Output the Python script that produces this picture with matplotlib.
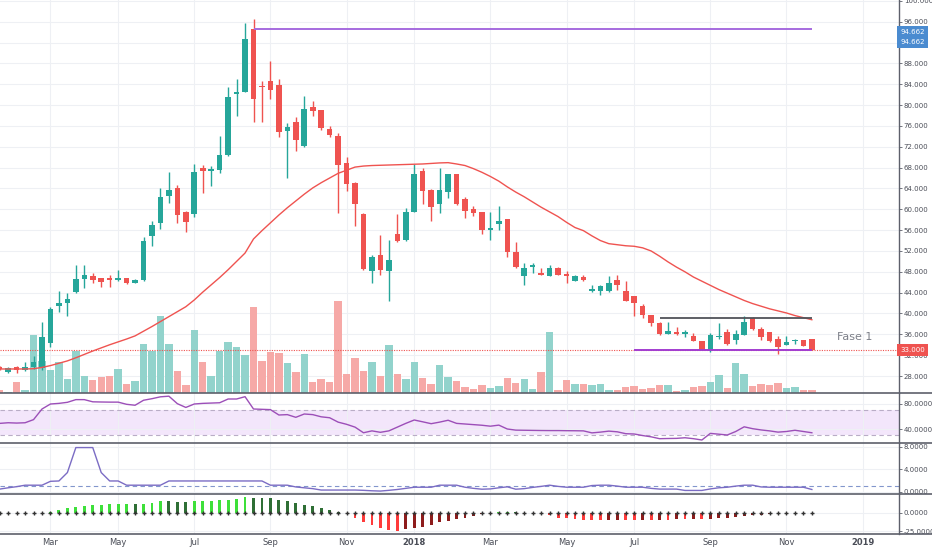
import datetime as dt
import math

import numpy as np
import matplotlib.pyplot as plt
from matplotlib.lines import Line2D

# weekly bars, first bar = Monday 2017-01-23
start = dt.date(2017, 1, 23)

opens = [29.8, 28.8, 29.66, 29.15, 29.66, 29.47, 34.4, 41.44, 41.95, 44.2,
         46.55, 47.26, 46.75, 46.6, 46.4, 46.8, 45.9, 46.5, 54.9, 57.43,
         62.6, 64.0, 59.5, 59.1, 67.9, 67.41, 67.54, 70.4, 82.1, 82.6,
         94.662, 83.7, 84.6, 83.8, 75.0, 76.8, 72.2, 79.57, 79.06, 75.4,
         74.07, 68.95, 65.0, 59.1, 48.22, 51.23, 48.2, 55.2, 54.1, 59.48,
         67.4, 63.7, 60.95, 63.3, 66.77, 62.0, 60.12, 59.4, 56.1, 57.18,
         58.1, 51.8, 47.2, 48.86, 47.84, 47.26, 48.67, 47.58, 46.3, 46.94,
         44.25, 44.31, 44.31, 46.42, 44.31, 43.35, 41.43, 39.7, 38.2, 36.06,
         36.5, 36.06, 35.67, 34.78, 32.8, 35.4, 36.5, 35.0, 35.87, 39.07,
         36.95, 36.38, 35.1, 33.95, 34.65, 34.9, 35.03]
highs = [30.0, 29.7, 30.0, 30.75, 31.8, 38.4, 41.3, 44.3, 43.9, 49.3,
         49.3, 47.8, 46.8, 47.4, 48.4, 46.9, 46.7, 54.6, 57.7, 64.0,
         67.1, 64.7, 59.6, 68.7, 68.5, 68.4, 74.07, 83.4, 85.0, 95.8,
         96.5, 84.6, 88.5, 85.1, 76.6, 77.8, 81.7, 80.7, 79.1, 75.9,
         74.7, 70.0, 65.2, 59.2, 51.23, 55.07, 54.2, 59.1, 60.2, 68.7,
         67.9, 63.8, 67.9, 66.8, 66.8, 62.4, 60.7, 59.5, 59.5, 60.6,
         58.2, 53.8, 49.75, 49.6, 48.7, 49.3, 48.9, 48.2, 47.3, 47.4,
         45.46, 45.4, 47.25, 47.38, 46.2, 43.4, 41.9, 39.8, 38.3, 38.43,
         37.5, 36.9, 36.3, 34.8, 36.2, 38.1, 37.1, 36.8, 39.5, 39.4,
         37.5, 36.4, 35.6, 35.6, 35.2, 35.0, 35.1]
lows = [29.1, 28.6, 28.6, 28.95, 29.4, 29.1, 33.6, 40.35, 39.6, 43.9,
        44.8, 45.8, 45.0, 45.0, 46.2, 45.7, 45.8, 46.2, 53.0, 56.3,
        61.3, 57.3, 55.6, 58.6, 63.1, 64.5, 67.03, 70.2, 77.9, 82.5,
        76.8, 76.8, 81.2, 73.9, 66.1, 71.25, 72.0, 77.9, 75.2, 73.9,
        59.3, 63.6, 56.7, 48.3, 45.9, 47.4, 42.46, 53.8, 54.0, 59.4,
        61.0, 57.8, 59.35, 62.1, 60.8, 58.3, 58.7, 55.2, 54.1, 56.0,
        50.9, 48.7, 45.47, 47.7, 47.4, 47.2, 47.4, 45.9, 46.2, 46.3,
        44.2, 43.48, 44.2, 44.5, 42.4, 39.5, 39.2, 37.6, 35.9, 36.0,
        35.9, 35.5, 34.7, 32.9, 32.7, 35.2, 33.95, 34.1, 35.8, 36.8,
        35.0, 34.6, 32.2, 33.9, 34.1, 33.7, 32.9]
closes = [29.3, 29.6, 29.15, 29.66, 30.75, 35.55, 40.86, 41.95, 42.84, 46.6,
          47.3, 46.43, 45.98, 46.5, 46.8, 45.8, 46.5, 53.9, 57.0, 62.36,
          63.7, 59.0, 57.6, 67.1, 67.3, 67.67, 70.36, 81.6, 82.5, 92.6,
          81.2, 83.5, 82.8, 74.9, 75.86, 73.3, 79.2, 78.93, 75.54, 74.3,
          68.5, 64.92, 60.95, 48.5, 50.78, 48.35, 50.2, 53.9, 59.4, 66.7,
          63.5, 60.5, 63.7, 66.7, 60.95, 59.7, 59.22, 56.0, 56.4, 57.69,
          51.8, 49.0, 48.67, 49.3, 47.45, 48.67, 47.45, 47.2, 47.2, 46.42,
          44.76, 45.34, 45.91, 45.46, 42.46, 42.07, 39.7, 38.2, 36.06, 36.7,
          36.06, 36.5, 34.78, 33.0, 35.87, 35.5, 34.14, 36.0, 38.43, 36.95,
          35.4, 34.78, 33.63, 34.59, 34.75, 33.8, 33.0]
volume = [3, 1.3, 11.7, 3.3, 61.3, 34, 24.7, 33, 15.3, 44.7,
          18.3, 13.7, 17, 18.3, 26, 9.3, 13.3, 52.3, 44.7, 82.3,
          51.7, 23.3, 8.7, 67.3, 33.3, 18.3, 44.7, 54.3, 48.7, 40.3,
          92, 33.7, 43.3, 42.7, 32, 22.3, 41, 11.3, 15, 12,
          98, 20, 37.7, 23.3, 33.3, 17.7, 51.3, 20.3, 15, 33.3,
          16.3, 9.3, 30, 16.7, 12.3, 6, 4.7, 8, 5.7, 7.3,
          16.3, 11, 15, 4.7, 22.3, 65.3, 3.3, 14.3, 9.7, 9.3,
          8.7, 9.3, 2.7, 3.3, 6.7, 7.3, 4.7, 5.7, 8.3, 8.7,
          2.3, 3.3, 6, 7.7, 11.3, 19, 5.7, 32.3, 19.7, 7.3,
          9.3, 8.3, 10.7, 5.7, 6, 2.7, 2.7]
ma = [29.35, 29.35, 29.35, 29.35, 29.4, 29.65, 30.0, 30.45, 30.9, 31.5,
      32.15, 32.8, 33.4, 34.0, 34.55, 35.1, 35.7, 36.6, 37.5, 38.45,
      39.4, 40.35, 41.3, 42.6, 44.1, 45.5, 46.9, 48.4, 50.0, 51.6,
      54.3, 55.9, 57.4, 58.9, 60.3, 61.6, 62.9, 64.1, 65.1, 66.0,
      66.9, 67.5, 68.1, 68.3, 68.4, 68.45, 68.5, 68.55, 68.6, 68.65,
      68.7, 68.8, 68.9, 68.95, 68.7, 68.4, 67.8, 67.1, 66.3, 65.4,
      64.3, 63.3, 62.4, 61.4, 60.4, 59.5, 58.6, 57.5, 56.5, 55.9,
      54.9, 54.0, 53.4, 53.2, 53.0, 52.9, 52.6, 52.0, 51.0, 49.9,
      48.9, 48.0, 47.0, 46.2, 45.4, 44.6, 43.9, 43.2, 42.5, 41.9,
      41.4, 40.9, 40.5, 40.1, 39.6, 39.2, 38.8]
rsi = [49, 50, 49.5, 50, 55, 72, 80, 81, 82.7, 87,
       87, 83.5, 83.2, 83, 83, 79.5, 78, 86, 88.5, 91.5,
       92.5, 80.5, 74.5, 80, 81, 81.5, 82, 88, 88, 91.7,
       72, 71.5, 71, 62.4, 63, 58.7, 64, 63, 59.5, 58,
       51, 47.5, 43, 34, 37, 34.7, 37, 43, 49, 54.4,
       51.5, 48.5, 51, 54, 49, 48, 47, 46, 44.5, 46.2,
       40, 38.2, 38, 37.8, 37.6, 37.5, 37.5, 37.3, 37.2, 37,
       33.8, 35, 36.6, 35.5, 32.5, 32, 29.5, 27.5, 24.5, 24.8,
       25, 26, 24.5, 22.4, 33, 31.7, 30.4, 36, 43.5, 40.5,
       38.5, 37, 35, 36, 38, 36, 34]
osc = [0.47, 0.7, 0.9, 1.16, 1.16, 1.16, 1.85, 1.91, 3.4, 7.83,
       7.83, 7.83, 3.4, 1.91, 1.91, 1.16, 1.16, 1.16, 1.16, 1.16,
       1.91, 1.91, 1.91, 1.91, 1.91, 1.91, 1.91, 1.91, 1.91, 1.91,
       1.91, 1.91, 1.16, 1.16, 1.16, 0.85, 0.7, 0.55, 0.3, 0.3,
       0.3, 0.3, 0.3, 0.25, 0.17, 0.12, 0.25, 0.4, 0.6, 0.8,
       0.8, 0.8, 1.16, 1.16, 1.16, 0.8, 0.6, 0.45, 0.5, 0.7,
       0.87, 0.45, 0.55, 0.77, 0.95, 1.16, 0.95, 0.8, 0.8, 0.8,
       1.1, 1.16, 1.16, 1.0, 0.8, 0.8, 0.8, 0.6, 0.47, 0.47,
       0.47, 0.23, 0.23, 0.23, 0.5, 0.7, 0.8, 1.0, 1.16, 1.16,
       0.85, 0.8, 0.8, 0.8, 0.8, 0.8, 0.4]
squeeze = [0, 0, 0, 0, 0, 0, 0.8, 3.6, 5.9, 7.3,
           8.6, 10.0, 10.9, 11.4, 11.8, 12.0, 11.4, 12.3, 13.2, 15.5,
           15.4, 15.2, 15.0, 15.8, 16.2, 16.5, 16.8, 17.7, 18.6, 20.9,
           20.7, 20.4, 19.8, 17.7, 15.9, 13.2, 10.5, 8.6, 6.8, 3.6,
           0.5, -0.8, -6.8, -12.3, -16.8, -20.5, -23.6, -24.5, -22.7, -20.9,
           -19.1, -16.4, -13.2, -10.9, -9.1, -7.3, -4.5, -1.8, -0.5, 0.3,
           0.4, 0.3, 0.2, -0.2, -1.8, -3.6, -6.8, -7.7, -9.1, -9.5,
           -10.5, -10.6, -10.0, -9.5, -10.0, -10.1, -9.5, -9.6, -9.5, -9.6,
           -9.1, -9.2, -8.6, -8.7, -8.2, -7.3, -6.8, -5.5, -4.1, -3.6,
           -2.7, -1.8, -0.9, -0.3, -0.2, -0.1, 0.0]

top_level = 94.662      # purple line from the high-close bar
top_from = 30
resist_level = 39.1
resist_from = 78
support_level = 32.9
support_from = 75
last_price = 33.0

n = len(closes)
for arr in (opens, highs, lows, volume, ma, rsi, osc, squeeze):
    assert len(arr) == n
x = np.arange(n)
o, h, l, c = map(np.array, (opens, highs, lows, closes))
up = c >= o

# month ticks: first weekly bar on/after the 1st of every second month
tick_idx, tick_lab, tick_bold = [], [], []
y_, m_ = 2017, 3
while (y_, m_) <= (2019, 1):
    d = dt.date(y_, m_, 1)
    tick_idx.append(math.ceil((d - start).days / 7))
    tick_lab.append(str(y_) if m_ == 1 else d.strftime("%b"))
    tick_bold.append(m_ == 1)
    m_ += 2
    if m_ > 12:
        m_ -= 12
        y_ += 1

UP = "#26a69a"
DN = "#ef5350"
GRID = "#eef0f4"
AXC = "#5d606b"
TXT = "#4a4d57"
FS = 5.0

W, H = 932, 550
XR = 899
fig = plt.figure(figsize=(W / 100, H / 100), dpi=100)


def pane(top, bot, **kw):
    return fig.add_axes([0, 1 - bot / H, XR / W, (bot - top) / H], **kw)


xlim = (0.035, 106.3)

ax = pane(0, 393)
axv = pane(0, 393)
axc = pane(0, 393, sharex=ax, sharey=ax)
ax_rsi = pane(393, 443)
ax_osc = pane(443, 494)
ax_sq = pane(494, 534)

for a in (ax, axv, axc, ax_rsi, ax_osc, ax_sq):
    a.set_xlim(*xlim)
    for s in ("left", "top", "bottom"):
        a.spines[s].set_visible(False)
    a.spines["right"].set_color(AXC)
    a.spines["right"].set_linewidth(1)
    a.yaxis.tick_right()
    a.tick_params(axis="y", labelsize=FS, labelcolor=TXT, color=AXC,
                  length=2, width=0.6, pad=1.5)
    a.set_xticks(tick_idx)
    a.tick_params(axis="x", length=0, labelbottom=False)
    a.grid(True, color=GRID, lw=0.8)
    a.set_axisbelow(True)

for a in (axv, axc):
    a.patch.set_visible(False)
    a.grid(False)
    a.spines["right"].set_visible(False)
    a.tick_params(axis="y", right=False, labelright=False)

# price pane background / ticks
ax.set_ylim(24.74, 100.17)
pt = np.arange(28, 101, 4)
ax.set_yticks(pt)
ax.set_yticklabels([f"{v:.3f}" for v in pt])

# volume overlay
vol_col = np.where(up, "#92d3cc", "#f6a9a7")
axv.bar(x, volume, width=0.88, color=vol_col, linewidth=0)
axv.set_ylim(0, max(volume) * 4.27)

# candles
ccol = np.where(up, UP, DN)
axc.vlines(x, l, h, colors=ccol, linewidth=1.0, zorder=3)
body_lo = np.minimum(o, c)
body_h = np.maximum(np.abs(c - o), 0.22)
axc.bar(x, body_h, bottom=body_lo, width=0.66, color=ccol, linewidth=0, zorder=4)

axc.plot(x, ma, color="#ef5350", lw=1.0, zorder=5)

axc.hlines(top_level, top_from, n - 1, color="#a66bdf", lw=1.4, zorder=6)
axc.hlines(resist_level, resist_from, n - 1, color="#505359", lw=1.3, zorder=6)
axc.hlines(support_level, support_from, n - 1, color="#a23dd0", lw=1.4, zorder=6)
axc.axhline(last_price, color="#ef5350", lw=0.8, ls=(0, (1, 1.2)), zorder=2)

axc.text(99.0, 35.55, "Fase 1", fontsize=8, color="#7c7f88", ha="left", va="center")

# price labels on the scale (two stacked labels for the top line)
for dy in (-2.2, -9.4):
    axc.annotate(f"{top_level:.3f}", xy=(1, top_level), xycoords=("axes fraction", "data"),
                 xytext=(1.0, dy), textcoords="offset points", ha="left", va="center",
                 fontsize=FS, color="white", annotation_clip=False,
                 bbox=dict(boxstyle="square,pad=0.45", fc="#4a8bd0", ec="none"), zorder=10)
axc.annotate(f"{last_price:.3f}", xy=(1, last_price), xycoords=("axes fraction", "data"),
             xytext=(1.0, 0), textcoords="offset points", ha="left", va="center",
             fontsize=FS, color="white", annotation_clip=False,
             bbox=dict(boxstyle="square,pad=0.45", fc="#ef5350", ec="none"), zorder=10)

# RSI pane
ax_rsi.set_ylim(17.6, 97.6)
ax_rsi.axhspan(30, 70, color="#f3e6fb", lw=0, zorder=0)
for lv in (30, 70):
    ax_rsi.axhline(lv, color="#b9adc6", lw=0.8, ls=(0, (4, 3)))
ax_rsi.plot(x, rsi, color="#9c4fb8", lw=1.0)
ax_rsi.set_yticks([40, 80])
ax_rsi.set_yticklabels(["40.0000", "80.0000"])

# oscillator pane
ax_osc.set_ylim(-0.4, 8.64)
ax_osc.axhline(1.0, color="#8296cc", lw=0.8, ls=(0, (4, 3)))
ax_osc.plot(x, osc, color="#7b6cc4", lw=1.0)
ax_osc.set_yticks([0, 4, 8])
ax_osc.set_yticklabels(["0.0000", "4.0000", "8.0000"])

# squeeze momentum histogram
sq = np.array(squeeze)
prev = np.concatenate([[sq[0]], sq[:-1]])
sq_col = np.where(sq >= 0,
                  np.where(sq > prev, "#3ee03a", "#2f6f35"),
                  np.where(sq < prev, "#ff3b3b", "#8e1c1c"))
ax_sq.set_ylim(-29, 25.5)
ax_sq.bar(x, sq, width=0.34, color=sq_col, linewidth=0)
ax_sq.plot(x, np.zeros(n), ls="none", marker="+", ms=3.5, mew=1.0, color="#333333")
ax_sq.set_yticks([-25, 0])
ax_sq.set_yticklabels(["-25.0000", "0.0000"])
ax_sq.tick_params(axis="x", labelbottom=True, labelsize=6, labelcolor=TXT, pad=3)
ax_sq.set_xticklabels(tick_lab)
for t, b in zip(ax_sq.get_xticklabels(), tick_bold):
    if b:
        t.set_fontweight("bold")

# pane separators
for yy in (393, 443, 494, 534):
    fig.add_artist(Line2D([0, 1], [1 - yy / H] * 2, transform=fig.transFigure,
                          color=AXC, lw=1.2))

fig.savefig("out.png", dpi=100)
